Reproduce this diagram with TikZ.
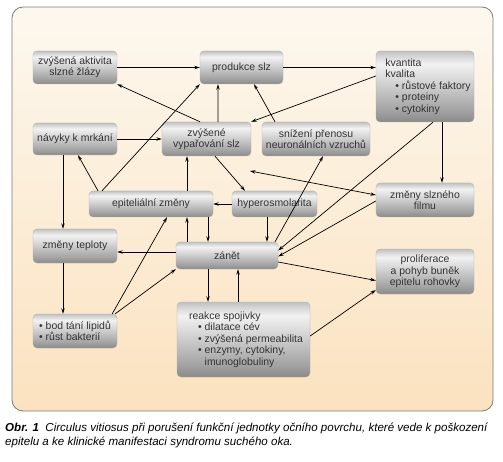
\documentclass[tikz,border=0pt]{standalone}
\usepackage{fontspec}
\setmainfont{Liberation Sans}
\usetikzlibrary{arrows.meta,calc}
\definecolor{txt}{HTML}{333333}
\definecolor{panelT}{HTML}{FDF8EF}
\definecolor{panelB}{HTML}{FBE2BF}
\definecolor{panelL}{HTML}{7A7A7A}
\definecolor{shA}{HTML}{8A8A8A}
\definecolor{shB}{HTML}{A2A2A2}
\definecolor{shC}{HTML}{D8D8D8}
\definecolor{shD}{HTML}{F2F2F2}
\definecolor{shE}{HTML}{C0C0C0}
\pgfdeclareverticalshading{boxshade}{100bp}{color(0bp)=(shA); color(25bp)=(shA); color(33bp)=(shB); color(55bp)=(shC); color(66bp)=(shD); color(71bp)=(shC); color(75bp)=(shE); color(100bp)=(shE)}
\newcommand{\bul}{•\ }
\begin{document}
\begin{tikzpicture}[x=1bp,y=-1bp,
  box/.style={shading=boxshade, draw=gray!60, line width=0.4bp, rounded corners=4bp,
    inner sep=0pt, align=center, font=\fontsize{10.5}{11.5}\selectfont, text=txt},
  arr/.style={-{Stealth[length=5.5bp,width=3.4bp]}, line width=0.7bp, black},
  darr/.style={{Stealth[length=5.5bp,width=3.4bp]}-{Stealth[length=5.5bp,width=3.4bp]}, line width=0.7bp, black},
  capstyle/.style={anchor=base west, inner sep=0pt, font=\fontsize{11.6}{14}\selectfont\itshape, text=black}
]
\useasboundingbox (0,0) rectangle (503,462);
\draw[draw=panelL, line width=0.8bp, rounded corners=11bp, top color=panelT, bottom color=panelB] (12,7) rectangle (493,411);

% boxes
\node[box, minimum width=84bp, minimum height=33bp] (akt) at (75,67.5) {zvýšená aktivita\\slzné žlázy};
\node[box, minimum width=83bp, minimum height=33bp] (prod) at (241.5,67.5) {produkce slz};
\node[box, minimum width=98bp, minimum height=71bp, align=left] (kval) at (425,86.5)
  {\hspace*{6bp}kvantita\\\hspace*{6bp}kvalita\\\hspace*{16bp}\bul růstové faktory\\\hspace*{16bp}\bul proteiny\\\hspace*{16bp}\bul cytokiny};
\node[box, minimum width=84bp, minimum height=32bp] (navyky) at (75,139) {návyky k mrkání};
\node[box, minimum width=89bp, minimum height=34bp] (vypar) at (206.5,139) {zvýšené\\vypařování slz};
\node[box, minimum width=108bp, minimum height=34bp] (sniz) at (316,139) {snížení přenosu\\neuronálních vzruchů};
\node[box, minimum width=124bp, minimum height=26bp] (epit) at (151,204) {epiteliální změny};
\node[box, minimum width=85bp, minimum height=26bp] (hyper) at (274.5,204) {hyperosmolarita};
\node[box, minimum width=98bp, minimum height=34bp] (film) at (425,200) {změny slzného\\filmu};
\node[box, minimum width=84bp, minimum height=34bp] (tepl) at (75,246) {změny teploty};
\node[box, minimum width=102bp, minimum height=27bp] (zanet) at (227,255.5) {zánět};
\node[box, minimum width=98bp, minimum height=45bp] (prolif) at (425,271.5) {proliferace\\a pohyb buněk\\epitelu rohovky};
\node[box, minimum width=84bp, minimum height=34bp, align=left] (bod) at (75,331) {\bul bod tání lipidů\\\bul růst bakterií};
\node[box, minimum width=133bp, minimum height=75bp, align=left] (reakce) at (243.5,339.5)
  {\hspace*{5bp}reakce spojivky\\\hspace*{14bp}\bul dilatace cév\\\hspace*{14bp}\bul zvýšená permeabilita\\\hspace*{14bp}\bul enzymy, cytokiny,\\\hspace*{20.6bp}imunoglobuliny};
\coordinate (fc) at (250,171);

% connectors
\draw[arr] (akt.east) -- (prod.west);
\draw[arr] (prod.east) -- (kval.west |- prod.east);
\draw[arr] ($(vypar.north)+(-6.5,0)$) -- (akt.south east);
\draw[arr] ($(vypar.north)+(11.5,0)$) -- ($(prod.south)+(-23.5,0)$);
\draw[arr] (navyky.east) -- (vypar.west);
\draw[arr] ($(navyky.south)+(-12,0)$) -- ($(tepl.north)+(-12,0)$);
\draw[arr] ($(epit.north)+(-53,0)$) -- ($(navyky.south)+(3,0)$);
\draw[arr] ($(epit.north)+(-49,0)$) -- (prod.south west);
\draw[arr] ($(epit.north)+(36,0)$) -- ($(vypar.south)+(-19.5,0)$);
\draw[arr] ($(zanet.north)+(-40,0)$) -- ($(epit.south)+(36,0)$);
\draw[arr] ($(epit.south)+(57,0)$) -- ($(zanet.north)+(-19,0)$);
\draw[arr] ($(vypar.south)+(8.5,0)$) -- ($(hyper.north)+(-29.5,0)$);
\draw[arr] (hyper.west) -- (epit.east);
\draw[arr] ($(zanet.north)+(48,0)$) -- ($(sniz.south)+(7,0)$);
\draw[arr] ($(sniz.north)+(-41,0)$) -- ($(prod.south)+(12.5,0)$);
\draw[arr] ($(kval.west)+(0,-10.5)$) -- (vypar.north east);
\draw[arr] ($(kval.south)+(17,0)$) -- ($(film.north)+(17,0)$);
\draw[darr] (fc) -- ($(film.west)+(0,-5)$);
\draw[arr] ($(kval.south)+(8,0)$) -- ($(zanet.east)+(0,-5)$);
\draw[arr] ($(film.west)+(0,1)$) -- ($(zanet.east)+(0,1)$);
\draw[arr] ($(hyper.south)+(-7.5,0)$) -- ($(zanet.north)+(40,0)$);
\draw[arr] ($(zanet.west)+(0,-3.5)$) -- (tepl.east |- {$(zanet.west)+(0,-3.5)$});
\draw[arr] ($(tepl.south)+(-12,0)$) -- ($(bod.north)+(-12,0)$);
\draw[arr] ($(bod.north east)+(-5,0)$) -- ($(epit.south)+(16,0)$);
\draw[arr] ($(bod.north east)+(-2,0)$) -- (zanet.south west);
\draw[arr] ($(zanet.south)+(-19,0)$) -- ($(reakce.north)+(-35.5,0)$);
\draw[arr] ($(reakce.north)+(-5.5,0)$) -- ($(zanet.south)+(11,0)$);
\draw[arr] ($(zanet.east)+(0,6.5)$) -- ($(prolif.west)+(0,9)$);
\draw[arr] ($(reakce.east)+(0,-3.5)$) -- ($(prolif.west)+(0,18.5)$);

% caption
\node[capstyle] (cap1) at (5,431) {\textbf{Obr. 1}\ \ Circulus vitiosus při porušení funkční jednotky očního povrchu, které vede k poškození};
\node[capstyle] (cap2) at (5,445) {epitelu a ke klinické manifestaci syndromu suchého oka.};
\end{tikzpicture}
\end{document}
